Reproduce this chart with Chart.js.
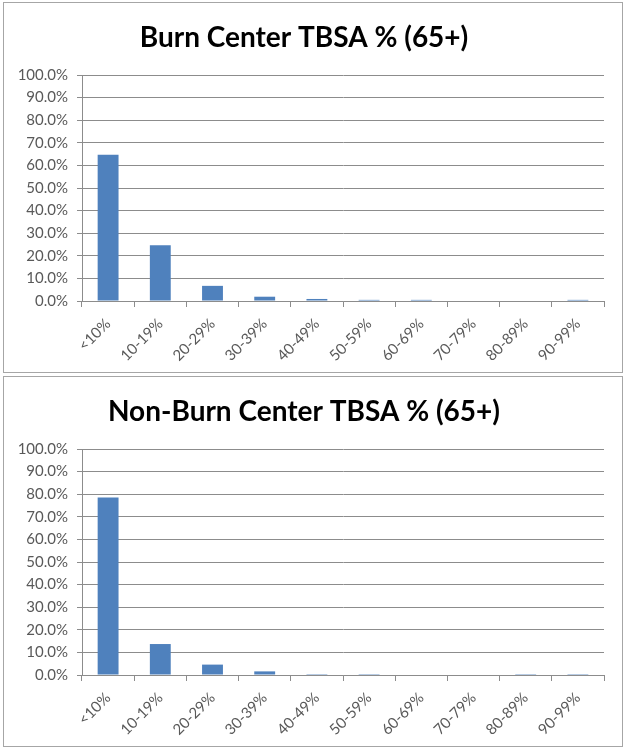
<!DOCTYPE html>
<html>
<head>
<meta charset="utf-8">
<script src="https://cdn.jsdelivr.net/npm/chart.js@4.4.1/dist/chart.umd.min.js"></script>
<style>
  body { margin: 0; background: #fff; }
  .box { position: absolute; left: 3px; width: 618px; height: 369px; border: 1px solid #a6a6a6; }
  #box1 { top: 2px; }
  #box2 { top: 376px; }
  canvas { display: block; }
</style>
</head>
<body>
<div class="box" id="box1"><canvas id="burnChart" width="618" height="369"></canvas></div>
<div class="box" id="box2"><canvas id="nonBurnChart" width="618" height="369"></canvas></div>
<script>
const categories = ['<10%', '10-19%', '20-29%', '30-39%', '40-49%', '50-59%', '60-69%', '70-79%', '80-89%', '90-99%'];
const burnCenter = [64.7, 24.7, 6.7, 1.9, 0.9, 0.5, 0.5, 0, 0, 0.5];
const nonBurnCenter = [78.5, 13.7, 4.6, 1.6, 0.4, 0.4, 0, 0, 0.4, 0.4];
const titles = ['Burn Center TBSA % (65+)', 'Non-Burn Center TBSA % (65+)'];

const tickFont = { family: 'Lato', size: 15 };
const gridColor = '#8c8c8c';

function makeChart(id, title, values) {
  const ctx = document.getElementById(id);
  return new Chart(ctx, {
    type: 'bar',
    data: {
      labels: categories,
      datasets: [{
        data: values,
        backgroundColor: '#4f81bd',
        borderWidth: 0,
        barPercentage: 0.4,
        categoryPercentage: 1,
      }],
    },
    options: {
      responsive: false,
      animation: false,
      layout: { padding: { left: 0, right: 18, top: 0, bottom: 0 } },
      plugins: {
        legend: { display: false },
        tooltip: { enabled: false },
        title: {
          display: true,
          text: title,
          color: '#000',
          font: { family: 'Lato', size: 28, weight: 'bold' },
          padding: { top: 18, bottom: 20.4 },
        },
      },
      scales: {
        x: {
          grid: { display: true, drawOnChartArea: false, offset: true, color: gridColor, tickLength: 6 },
          border: { color: gridColor },
          ticks: { color: '#595959', font: tickFont, minRotation: 45, maxRotation: 45, padding: 8 },
          afterFit(scale) { scale.height = 71; },
        },
        y: {
          min: 0,
          max: 100,
          grid: { color: gridColor, tickLength: 5 },
          border: { color: gridColor },
          ticks: {
            stepSize: 10,
            color: '#595959',
            font: tickFont,
            padding: 9,
            callback: (v) => v.toFixed(1) + '%',
          },
          afterFit(scale) { scale.width = 78; },
        },
      },
    },
  });
}

makeChart('burnChart', titles[0], burnCenter);
makeChart('nonBurnChart', titles[1], nonBurnCenter);
</script>
</body>
</html>
